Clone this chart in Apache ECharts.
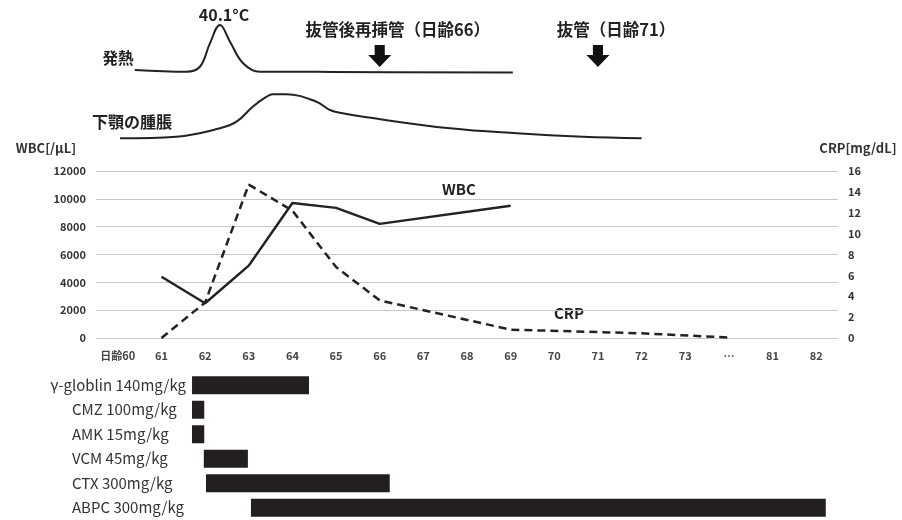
<!DOCTYPE html>
<html><head><meta charset="utf-8">
<script src="https://cdn.jsdelivr.net/npm/echarts@6/dist/echarts.min.js"></script>
<style>html,body{margin:0;padding:0;background:#fff}#c{width:902px;height:520px}</style>
</head><body><div id="c"></div>
<script>
// ---- data ----
const days = ['日齢60','61','62','63','64','65','66','67','68','69','70','71','72','73','…','81','82'];
const wbc  = [null,4400,2500,5200,9700,9350,8200,null,null,9500,null,null,null,null,null,null,null];
const crp  = [null,0,3.4,14.7,12.2,6.8,3.6,null,null,0.8,null,null,0.45,null,0.05,null,null];
const wbcTicks = {min:0, max:12000, step:2000};
const crpTicks = {min:0, max:16, step:2};
// schematic curves (x = position along the day axis, 0 = 日齢60)
const feverX = [0.39,1.57,1.88,2.11,2.34,2.57,2.87,3.25,4.17,4.93,9.05];
const feverT = [37.01,36.89,37.23,38.84,40.1,38.95,37.47,36.89,36.89,36.87,36.84];
const swellX = [0.05,1.34,2.34,2.72,3.09,3.41,3.55,3.86,4.55,4.86,5.15,5.70,7.61,9.14,10.65,12.0];
const swellV = [0.34,0.66,2.34,3.66,6.66,8.66,9.14,9.14,7.66,6.0,5.34,4.54,2.34,1.34,0.66,0.34];
const eventX = [6, 11];
const eventText = ['抜管後再挿管（日齢66）','抜管（日齢71）'];
const drugs = ['γ-globlin 140mg/kg','CMZ 100mg/kg','AMK 15mg/kg','VCM 45mg/kg','CTX 300mg/kg','ABPC 300mg/kg'];
const drugStart = [1.70,1.70,1.70,1.97,2.02,3.05];
const drugEnd   = [4.38,1.98,1.98,2.98,6.23,16.22];

// ---- chart ----
const FONT = "'Noto Sans CJK JP','Noto Sans',sans-serif";
const INK = '#222';
const chart = echarts.init(document.getElementById('c'), null, {renderer:'canvas'});
const G = {left:96, right:64};
const hiddenX = (gi) => ({type:'value', gridIndex:gi, min:-0.5, max:days.length-0.5, show:false});
const arrowPath = 'path://M28,0 L72,0 L72,45 L100,45 L50,100 L0,45 L28,45 Z';
const txt = (t, x, y, size, fill) => ({type:'text', x:x, y:y,
  style:{text:t, font:'bold '+size+'px '+FONT, fill:fill||INK, textAlign:'center', textVerticalAlign:'middle'}});

chart.setOption({
  animation:false,
  textStyle:{fontFamily:FONT},
  grid:[
    {left:G.left, right:G.right, top:171, height:167},   // WBC/CRP
    {left:G.left, right:G.right, top:25, height:48},     // fever
    {left:G.left, right:G.right, top:90, height:50},     // swelling
    {left:G.left, right:G.right, top:373, height:150}    // drugs
  ],
  xAxis:[
    {type:'category', gridIndex:0, data:days, boundaryGap:true,
     axisLine:{show:false}, axisTick:{show:false},
     axisLabel:{color:'#444', fontWeight:'bold', fontSize:11, margin:12, interval:0}},
    hiddenX(1), hiddenX(2), hiddenX(3)
  ],
  yAxis:[
    {type:'value', gridIndex:0, min:wbcTicks.min, max:wbcTicks.max, interval:wbcTicks.step,
     axisLine:{show:false}, axisTick:{show:false},
     axisLabel:{color:'#333', fontWeight:'bold', fontSize:11, margin:10, formatter:(v)=>String(v)},
     splitLine:{lineStyle:{color:'#c8c8c8', width:1}}},
    {type:'value', gridIndex:0, position:'right', min:crpTicks.min, max:crpTicks.max, interval:crpTicks.step,
     axisLine:{show:false}, axisTick:{show:false}, splitLine:{show:false},
     axisLabel:{color:'#333', fontWeight:'bold', fontSize:11, margin:10, formatter:(v)=>String(v)}},
    {type:'value', gridIndex:1, min:36.8, max:40.1, show:false},
    {type:'value', gridIndex:2, min:0, max:10, show:false},
    {type:'category', gridIndex:3, data:drugs, inverse:true,
     axisLine:{show:false}, axisTick:{show:false}, splitLine:{show:false},
     axisLabel:{color:'#333', fontSize:15, align:'right', margin:-90, interval:0,
                formatter:(v, i)=> i === 0 ? v : '{a|' + v + '}',
                rich:{a:{width:114, align:'left', fontSize:15, color:'#333'}}}}
  ],
  series:[
    {name:'WBC', type:'line', xAxisIndex:0, yAxisIndex:0, data:wbc, connectNulls:true,
     showSymbol:false, lineStyle:{color:INK, width:2.5}, itemStyle:{color:INK}},
    {name:'CRP', type:'line', xAxisIndex:0, yAxisIndex:1, data:crp, connectNulls:true,
     showSymbol:false, lineStyle:{color:INK, width:2.5, type:[8,5]}, itemStyle:{color:INK}},
    {name:'発熱', type:'line', xAxisIndex:1, yAxisIndex:2, smooth:0.4, showSymbol:false,
     data:feverX.map((x,i)=>[x,feverT[i]]), lineStyle:{color:INK, width:2}},
    {name:'下顎の腫脹', type:'line', xAxisIndex:2, yAxisIndex:3, smooth:0.4, showSymbol:false,
     data:swellX.map((x,i)=>[x,swellV[i]]), lineStyle:{color:INK, width:2}},
    {name:'events', type:'scatter', xAxisIndex:1, yAxisIndex:2, symbol:arrowPath, symbolSize:[23,22],
     itemStyle:{color:'#111', opacity:1},
     data:eventX.map((x,i)=>({value:[x,37.97], name:eventText[i]})),
     label:{show:true, position:'top', distance:7, offset:[18,0], formatter:(p)=>p.name,
            color:INK, fontWeight:'bold', fontSize:16.5, fontFamily:FONT}},
    {name:'drugs', type:'custom', xAxisIndex:3, yAxisIndex:4,
     data:drugs.map((d,i)=>[drugStart[i], drugEnd[i], i]),
     encode:{x:[0,1], y:2},
     renderItem:(params, api)=>{
       const s = api.coord([api.value(0), api.value(2)]);
       const e = api.coord([api.value(1), api.value(2)]);
       const h = 18;
       return {type:'rect', shape:{x:s[0], y:s[1]-h/2, width:e[0]-s[0], height:h},
               style:{fill:'#231f20'}};
     }}
  ],
  graphic:[
    txt('40.1°C', 224, 15, 16),
    txt('発熱', 118, 58, 15.5),
    txt('下顎の腫脹', 132, 122, 16),
    txt('WBC[/μL]', 46, 148, 13, '#333'),
    txt('CRP[mg/dL]', 858, 148, 13, '#333'),
    txt('WBC', 459, 189, 15),
    txt('CRP', 569, 313, 15)
  ]
});
</script></body></html>
